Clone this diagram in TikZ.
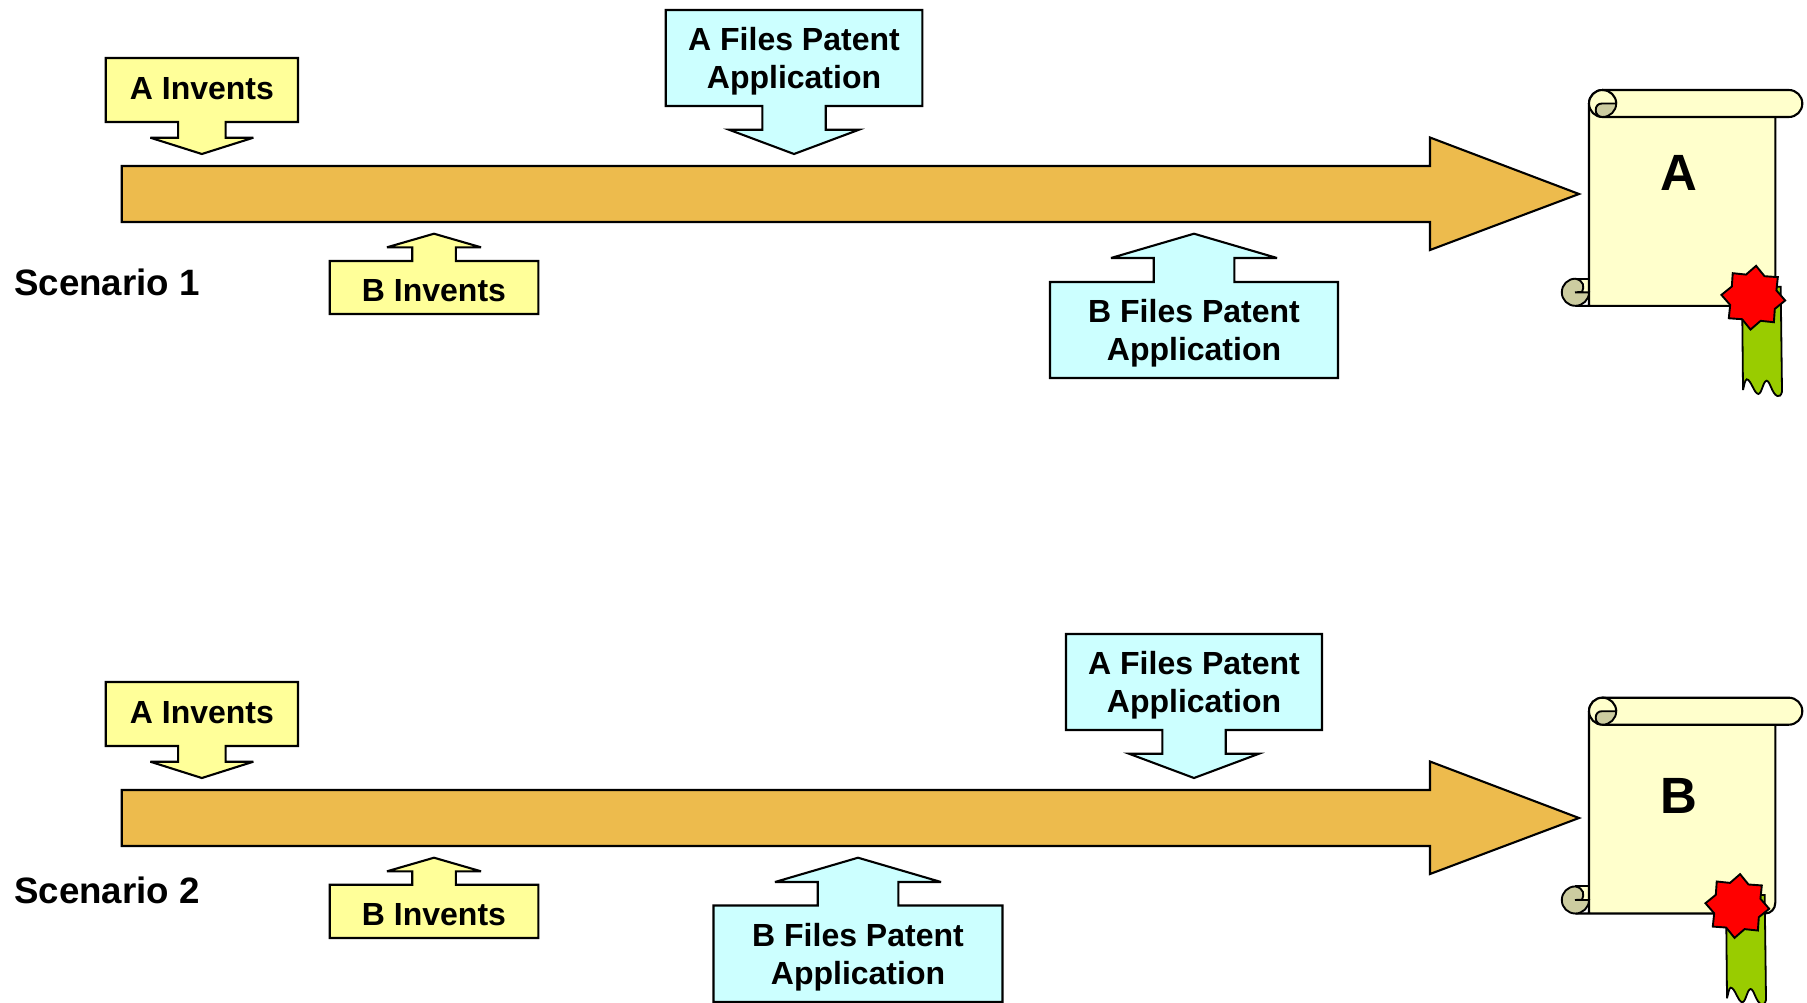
\documentclass[tikz,border=0pt]{standalone}
\usepackage{fontspec}
\setmainfont{Liberation Sans}
\usetikzlibrary{shapes.geometric}
\definecolor{barorange}{RGB}{237,187,77}
\definecolor{boxyellow}{RGB}{255,255,153}
\definecolor{boxcyan}{RGB}{204,255,255}
\definecolor{pagecream}{RGB}{255,255,204}
\definecolor{curlgrey}{RGB}{204,204,160}
\definecolor{ribbongreen}{RGB}{153,204,0}
\tikzset{
  outline/.style={draw=black,line width=2.1pt,line join=miter,miter limit=6},
  yellowshape/.style={outline,fill=boxyellow},
  cyanshape/.style={outline,fill=boxcyan},
  barshape/.style={outline,fill=barorange},
  pageshape/.style={outline,fill=pagecream},
  curlshape/.style={outline,fill=curlgrey,line width=1.9pt},
  ribbonshape/.style={outline,fill=ribbongreen},
  sealshape/.style={star,star points=8,star point ratio=1.32,minimum size=64pt,inner sep=0pt,
    shape border rotate=-5,draw=black,line width=1.9pt,fill=red},
  calltext/.style={font=\bfseries\fontsize{32}{38}\selectfont,align=center,inner sep=0pt,text=black},
  titletext/.style={font=\bfseries\fontsize{36.7}{40}\selectfont,anchor=base west,inner sep=0pt,text=black},
  lettertext/.style={font=\bfseries\fontsize{51}{51}\selectfont,anchor=base,inner sep=0pt,text=black},
}
\newcommand{\barrow}[1]{\draw[barshape] (121.7,#1-28) -- (1430,#1-28) -- (1430,#1-56.5) -- (1579,#1) -- (1430,#1+56) -- (1430,#1+28) -- (121.7,#1+28) -- cycle;}
\newcommand{\callout}[9]{%
  % #1 style, #2 xL, #3 xR, #4 box far y, #5 box near y, #6 half shaft, #7 neck y, #8 half head, #9 tip y
  \pgfmathsetmacro{\cxx}{(#2+#3)/2}
  \draw[#1] (#2,#4) -- (#3,#4) -- (#3,#5) -- (\cxx+#6,#5) -- (\cxx+#6,#7) -- (\cxx+#8,#7) -- (\cxx,#9) -- (\cxx-#8,#7) -- (\cxx-#6,#7) -- (\cxx-#6,#5) -- (#2,#5) -- cycle;
}
\newcommand{\scrollpic}[2]{%
 \begin{scope}[shift={(#1,#2)}]
  \fill[pagecream] (-13.7,188.7) rectangle (0,202.3);
  \draw[outline] (-13.7,188.7) -- (0,188.7);
  \path[pageshape] (13.5,0) .. controls (6,0) and (0,6) .. (0,13.5) -- (0,215.8) -- (-13.7,215.8) -- (176,215.8)
     .. controls (182,215.8) and (186.3,211) .. (186.3,205) -- (186.3,20) -- cycle;
  \path[curlshape] (-13.7,188.7) .. controls (-21.2,188.7) and (-27.2,194.8) .. (-27.2,202.3)
     .. controls (-27.2,209.8) and (-21.2,215.8) .. (-13.7,215.8)
     .. controls (-6.2,215.8) and (0,209.8) .. (0,202.3) -- (-14,202.3) -- (-7,202)
     .. controls (-4.5,197) and (-5,190.5) .. (-13.7,188.7) -- cycle;
  \path[pageshape] (13.5,0) -- (199.8,0) .. controls (207.3,0) and (213.3,6) .. (213.3,13.5)
     .. controls (213.3,21) and (207.3,27) .. (199.8,27) -- (13.5,27)
     .. controls (6,27) and (0,21) .. (0,13.5) .. controls (0,6) and (6,0) .. (13.5,0) -- cycle;
  \path[curlshape] (27.2,13.5) -- (13,13.5) .. controls (9,13.5) and (6.7,16) .. (6.7,20.2)
     .. controls (6.7,24) and (9.5,27) .. (13.5,27) .. controls (21,27) and (27.2,21) .. (27.2,13.5) -- cycle;
  \draw[outline] (13.5,0) .. controls (21,0) and (27.2,6) .. (27.2,13.5);
 \end{scope}}
\newcommand{\ribbonpic}[2]{%
 \begin{scope}[shift={(#1,#2)}]
  \path[ribbonshape,line width=1.8pt] (153,196.7) -- (191.7,196.7) -- (193,301.7)
     .. controls (192,306) and (190,306.5) .. (188.3,306)
     .. controls (183,304) and (181,291) .. (177.7,290.7)
     .. controls (174,291) and (173,303.5) .. (169.3,304)
     .. controls (165,303.5) and (162,289.5) .. (157.7,289.3)
     .. controls (156,289.5) and (155,296) .. (154,300) -- cycle;
 \end{scope}}
\begin{document}
\begin{tikzpicture}[x=1pt,y=-1pt]
\useasboundingbox (0,0) rectangle (1807,1002);
\clip (0,0) rectangle (1807,1002);
\fill[white] (0,0) rectangle (1807,1002);

% --- Scenario 1
\barrow{194}
\callout{yellowshape}{105.7}{298}{58}{122}{23.7}{137.7}{51.5}{154}
\node[calltext] (ainvone) at (201.9,88.5) {A Invents};
\callout{yellowshape}{329.7}{538.3}{314}{261}{21.8}{247.3}{47}{233.7}
\node[calltext] (binvone) at (434,290.5) {B Invents};
\callout{cyanshape}{665.7}{922.3}{10}{106}{31.7}{129.7}{65}{154}
\node[calltext] (afileone) at (794,61.5) {A Files Patent\\Application};
\callout{cyanshape}{1050}{1338}{378}{282}{40.3}{258}{83}{233.7}
\node[calltext] (bfileone) at (1194,333) {B Files Patent\\Application};
\node[titletext] (scenone) at (14,295) {Scenario 1};
\scrollpic{1589}{90}
\node[lettertext] (letterA) at (1679,190) {A};
\ribbonpic{1589}{90}
\node[sealshape] (sealA) at (1753.3,297.7) {};

% --- Scenario 2
\barrow{818}
\callout{yellowshape}{105.7}{298}{682}{746}{23.7}{761.7}{51.5}{778}
\node[calltext] (ainvtwo) at (201.9,712.5) {A Invents};
\callout{yellowshape}{329.7}{538.3}{938}{884.7}{21.8}{871.3}{47}{857.7}
\node[calltext] (binvtwo) at (434,914.5) {B Invents};
\callout{cyanshape}{1066}{1322}{634}{730}{31.7}{753.7}{65}{778}
\node[calltext] (afiletwo) at (1194,685.5) {A Files Patent\\Application};
\callout{cyanshape}{713.5}{1002.5}{1002}{905.5}{40.3}{882}{83}{857.7}
\node[calltext] (bfiletwo) at (858,957) {B Files Patent\\Application};
\node[titletext] (scentwo) at (14,903) {Scenario 2};
\scrollpic{1589}{697.7}
\node[lettertext] (letterB) at (1679,813) {B};
\ribbonpic{1573}{698.3}
\node[sealshape] (sealB) at (1737.3,906) {};
\end{tikzpicture}
\end{document}
